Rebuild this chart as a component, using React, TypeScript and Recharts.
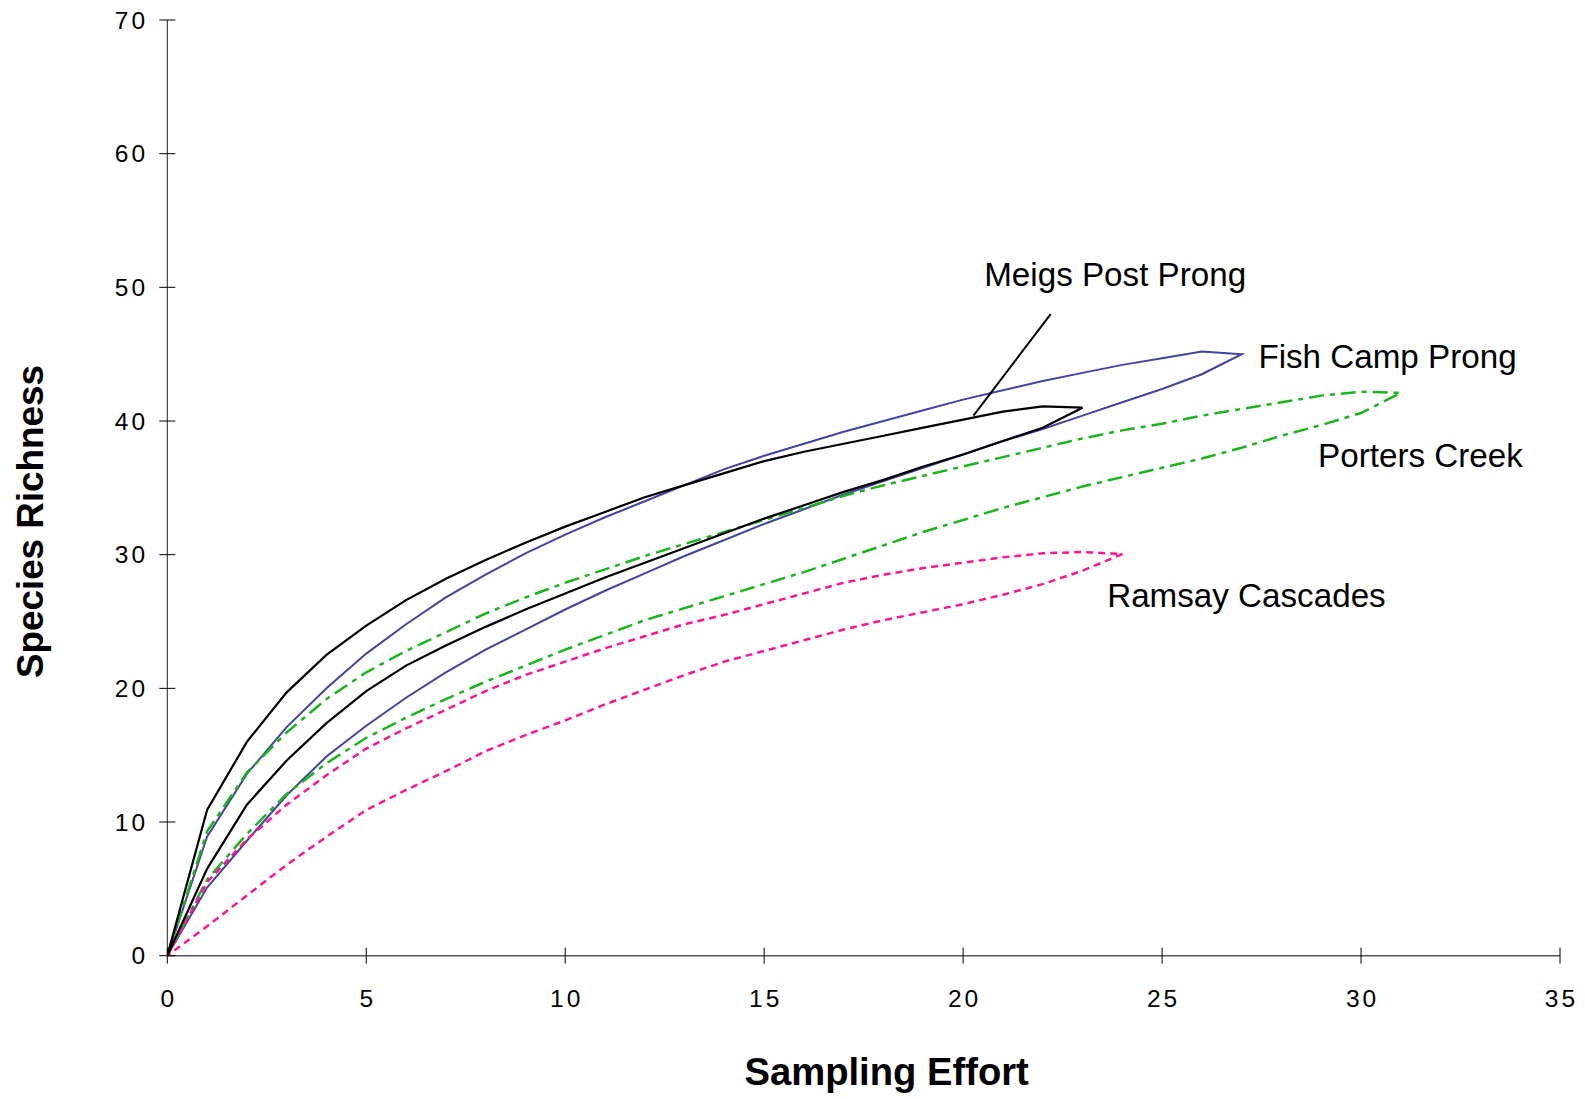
import React from 'react';
import { LineChart, Line, XAxis, YAxis, ReferenceLine, ReferenceDot } from 'recharts';

const xTicks = [0, 5, 10, 15, 20, 25, 30, 35];
const yTicks = [0, 10, 20, 30, 40, 50, 60, 70];

// Meigs Post Prong (upper bound x=0..22, closing point x=23, lower bound x=0..22)
const meigsUpper = [0, 10.9, 16.0, 19.7, 22.5, 24.7, 26.6, 28.2, 29.6, 30.9, 32.1, 33.2, 34.3, 35.2, 36.1, 37.0, 37.7, 38.3, 38.9, 39.5, 40.1, 40.7, 41.1];
const meigsEnd = 41.0;
const meigsLower = [0, 6.5, 11.3, 14.6, 17.4, 19.8, 21.7, 23.2, 24.6, 25.9, 27.1, 28.3, 29.4, 30.5, 31.6, 32.7, 33.7, 34.7, 35.6, 36.6, 37.5, 38.5, 39.5];

// Fish Camp Prong
const fishUpper = [0, 8.9, 13.6, 17.1, 20.0, 22.6, 24.8, 26.8, 28.5, 30.1, 31.5, 32.8, 34.0, 35.2, 36.4, 37.4, 38.3, 39.2, 40.0, 40.8, 41.6, 42.3, 43.0, 43.6, 44.2, 44.7, 45.2];
const fishEnd = 45.0;
const fishLower = [0, 5.1, 8.6, 12.0, 14.9, 17.2, 19.3, 21.2, 22.9, 24.4, 25.9, 27.3, 28.6, 29.9, 31.1, 32.3, 33.4, 34.5, 35.5, 36.5, 37.5, 38.5, 39.4, 40.4, 41.4, 42.4, 43.5];

// Porters Creek
const portersUpper = [0, 9.3, 13.7, 16.7, 19.2, 21.2, 22.8, 24.2, 25.6, 26.8, 27.9, 28.9, 29.9, 30.8, 31.7, 32.6, 33.5, 34.4, 35.2, 35.9, 36.6, 37.3, 38.0, 38.7, 39.3, 39.8, 40.4, 40.9, 41.4, 41.9, 42.2];
const portersEnd = 42.1;
const portersLower = [0, 5.7, 9.1, 12.1, 14.4, 16.3, 17.8, 19.2, 20.5, 21.7, 22.9, 24.0, 25.1, 26.0, 26.9, 27.8, 28.7, 29.7, 30.7, 31.7, 32.6, 33.5, 34.3, 35.1, 35.8, 36.5, 37.2, 38.0, 38.9, 39.7, 40.6];

// Ramsay Cascades
const ramsayUpper = [0, 5.5, 8.7, 11.3, 13.5, 15.5, 17.0, 18.4, 19.8, 21.0, 22.0, 23.0, 23.9, 24.8, 25.5, 26.3, 27.1, 27.9, 28.5, 29.0, 29.4, 29.8, 30.1, 30.2];
const ramsayEnd = 30.05;
const ramsayLower = [0, 2.2, 4.5, 6.8, 8.9, 10.9, 12.4, 13.8, 15.3, 16.5, 17.6, 18.8, 19.9, 21.0, 22.0, 22.8, 23.6, 24.4, 25.1, 25.7, 26.3, 27.0, 27.8, 28.8];

const siteNames = ['Meigs Post Prong', 'Fish Camp Prong', 'Porters Creek', 'Ramsay Cascades'];
// label anchor positions (data coordinates, left/baseline of text)
const labelX = [20.53, 27.42, 28.92, 23.62];
const labelY = [50.09, 43.93, 36.57, 26.1];
const leaderFrom = { x: 20.26, y: 40.4 };
const leaderTo = { x: 22.2, y: 48.0 };

function buildLoop(upper: number[], end: number, lower: number[]) {
  const pts: { x: number; y: number }[] = upper.map((y, i) => ({ x: i, y }));
  pts.push({ x: upper.length, y: end });
  for (let i = lower.length - 1; i >= 0; i--) pts.push({ x: i, y: lower[i] });
  return pts;
}

const meigsData = buildLoop(meigsUpper, meigsEnd, meigsLower);
const fishData = buildLoop(fishUpper, fishEnd, fishLower);
const portersData = buildLoop(portersUpper, portersEnd, portersLower);
const ramsayData = buildLoop(ramsayUpper, ramsayEnd, ramsayLower);

const FONT = '"Liberation Sans", Arial, Helvetica, sans-serif';

const XTick = (props: any) => {
  const { x, y, payload } = props;
  return (
    <g>
      <line x1={x} x2={x} y1={y - 8} y2={y + 8} stroke="#000" strokeWidth={1} />
      <text x={x + 1.5} y={y + 51} textAnchor="middle" fontFamily={FONT} fontSize={24.5} letterSpacing={3} fill="#000">
        {payload.value}
      </text>
    </g>
  );
};

const YTick = (props: any) => {
  const { x, y, payload } = props;
  return (
    <g>
      <line x1={x - 8} x2={x + 8} y1={y} y2={y} stroke="#000" strokeWidth={1} />
      <text x={x - 19} y={y + 8.5} textAnchor="end" fontFamily={FONT} fontSize={24.5} letterSpacing={3.2} fill="#000">
        {payload.value}
      </text>
    </g>
  );
};

const makeLabelShape = (text: string) => (props: any) => (
  <text x={props.cx} y={props.cy} fontFamily={FONT} fontSize={33.2} fill="#000" textAnchor="start">
    {text}
  </text>
);

export default function App() {
  return (
    <LineChart
      width={1577}
      height={1091}
      margin={{ top: 12, right: 25, bottom: 0, left: 0 }}
      style={{ fontFamily: FONT }}
    >
      <XAxis
        type="number"
        dataKey="x"
        domain={[0, 35]}
        ticks={xTicks}
        interval={0}
        allowDataOverflow
        height={143.3}
        tickSize={0}
        tickMargin={0}
        tickLine={false}
        tick={<XTick />}
        axisLine={{ stroke: '#555', strokeWidth: 1.5 }}
        label={{
          content: (p: any) => {
            const vb = p.viewBox;
            return (
              <text x={vb.x + vb.width / 2 + 23} y={vb.y + 129.3} textAnchor="middle" fontFamily={FONT} fontSize={38.2} fontWeight="bold" fill="#000">
                Sampling Effort
              </text>
            );
          },
        }}
      />
      <YAxis
        type="number"
        dataKey="y"
        domain={[0, 70]}
        ticks={yTicks}
        interval={0}
        allowDataOverflow
        width={159.3}
        tickSize={0}
        tickMargin={0}
        tickLine={false}
        tick={<YTick />}
        axisLine={{ stroke: '#222', strokeWidth: 1 }}
        label={{
          content: (p: any) => {
            const vb = p.viewBox;
            const cx = 35.5;
            const cy = vb.y + vb.height / 2 + 33.7;
            return (
              <text x={cx} y={cy} transform={`rotate(-90 ${cx} ${cy})`} textAnchor="middle" fontFamily={FONT} fontSize={36.8} fontWeight="bold" fill="#000">
                Species Richness
              </text>
            );
          },
        }}
      />
      <Line data={fishData} dataKey="y" type="linear" stroke="#4343A3" strokeWidth={2} dot={false} activeDot={false} isAnimationActive={false} />
      <Line data={portersData} dataKey="y" type="linear" stroke="#1DB51D" strokeWidth={2.5} strokeDasharray="15 6 5 6" dot={false} activeDot={false} isAnimationActive={false} />
      <Line data={ramsayData} dataKey="y" type="linear" stroke="#FF1493" strokeWidth={2.5} strokeDasharray="7 5" dot={false} activeDot={false} isAnimationActive={false} />
      <Line data={meigsData} dataKey="y" type="linear" stroke="#000000" strokeWidth={2.2} dot={false} activeDot={false} isAnimationActive={false} />
      <ReferenceLine segment={[leaderFrom, leaderTo]} stroke="#000" strokeWidth={2} ifOverflow="visible" />
      {siteNames.map((name, i) => (
        <ReferenceDot key={name} x={labelX[i]} y={labelY[i]} r={0} ifOverflow="visible" shape={makeLabelShape(name)} />
      ))}
    </LineChart>
  );
}
